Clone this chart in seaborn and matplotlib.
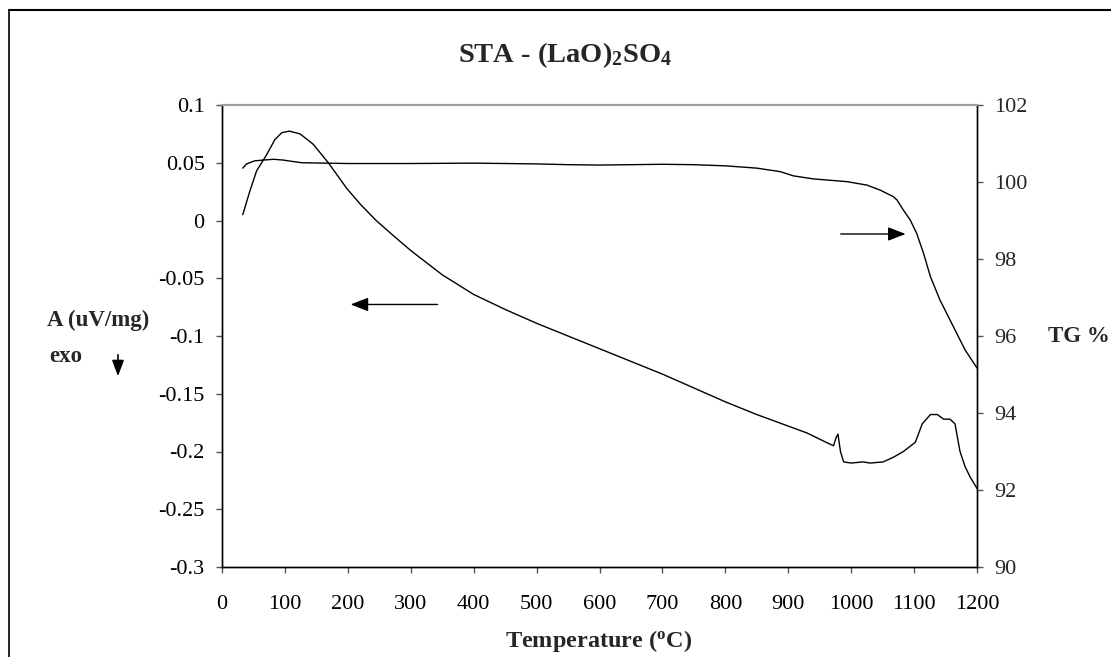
import numpy as np
import pandas as pd
import seaborn as sns
import matplotlib.pyplot as plt
from matplotlib.lines import Line2D

# -------------------------------------------------------------------
# Data read off the STA curves of (LaO)2SO4
# -------------------------------------------------------------------
dta_temp = [33, 44, 55, 71, 84, 95, 107, 124, 145, 169, 198, 220, 245, 270,
            300, 350, 400, 450, 500, 550, 600, 650, 700, 750, 800, 850, 900,
            930, 960, 972, 976, 979, 983, 988, 1000, 1019, 1030, 1051, 1067,
            1083, 1102, 1113, 1126, 1137, 1147, 1157, 1165, 1173, 1181, 1189,
            1200]
dta_vals = [0.005, 0.025, 0.043, 0.057, 0.070, 0.076, 0.0774, 0.075, 0.066,
            0.050, 0.028, 0.014, 0.000, -0.012, -0.026, -0.047, -0.064,
            -0.077, -0.089, -0.100, -0.111, -0.122, -0.133, -0.145, -0.157,
            -0.168, -0.178, -0.184, -0.192, -0.195, -0.188, -0.185, -0.200,
            -0.209, -0.210, -0.209, -0.210, -0.209, -0.205, -0.200, -0.192,
            -0.176, -0.168, -0.168, -0.172, -0.172, -0.176, -0.200, -0.213,
            -0.222, -0.232]

tg_temp = [33, 39, 52, 66, 82, 97, 105, 127, 200, 300, 400, 500, 550, 600,
           650, 700, 750, 800, 850, 887, 908, 940, 993, 1025, 1046, 1067,
           1073, 1083, 1094, 1104, 1115, 1126, 1141, 1165, 1181, 1200]
tg_vals = [100.36, 100.47, 100.55, 100.57, 100.59, 100.57, 100.55, 100.50,
           100.48, 100.48, 100.49, 100.47, 100.45, 100.44, 100.45, 100.46,
           100.45, 100.42, 100.36, 100.27, 100.16, 100.08, 100.01, 99.92,
           99.79, 99.62, 99.53, 99.27, 99.01, 98.67, 98.15, 97.54, 96.94,
           96.16, 95.64, 95.17]

x_ticks = list(range(0, 1201, 100))
left_ticks = [0.1, 0.05, 0, -0.05, -0.1, -0.15, -0.2, -0.25, -0.3]
left_labels = ["0.1", "0.05", "0", "-0.05", "-0.1", "-0.15", "-0.2", "-0.25", "-0.3"]
right_ticks = [90, 92, 94, 96, 98, 100, 102]

dta = pd.DataFrame({"T": dta_temp, "A": dta_vals})
tg = pd.DataFrame({"T": tg_temp, "TG": tg_vals})

# -------------------------------------------------------------------
# Style
# -------------------------------------------------------------------
sns.set_theme(style="white")
plt.rcParams["font.family"] = ["Liberation Serif", "DejaVu Serif"]
plt.rcParams["mathtext.fontset"] = "custom"
plt.rcParams["mathtext.rm"] = "Liberation Serif:bold"
plt.rcParams["mathtext.it"] = "Liberation Serif:bold"
plt.rcParams["mathtext.bf"] = "Liberation Serif:bold"
plt.rcParams["axes.unicode_minus"] = False

fig = plt.figure(figsize=(11.11, 6.57), dpi=100)
ax = fig.add_axes([222 / 1111, 90 / 657, 755 / 1111, 462 / 657])
ax2 = ax.twinx()

sns.lineplot(data=dta, x="T", y="A", ax=ax, color="black", lw=1.0,
             sort=False, estimator=None)
sns.lineplot(data=tg, x="T", y="TG", ax=ax2, color="black", lw=1.0,
             sort=False, estimator=None)

ax.set_xlim(0, 1200)
ax.set_ylim(-0.3, 0.1)
ax2.set_ylim(90, 102)
ax.set_xticks(x_ticks)
ax.set_xticklabels([str(t) for t in x_ticks])
ax.set_yticks(left_ticks)
ax.set_yticklabels(left_labels)
ax2.set_yticks(right_ticks)
ax2.set_yticklabels([str(t) for t in right_ticks])

for a in (ax, ax2):
    a.set_xlabel("")
    a.set_ylabel("")
    for s in a.spines.values():
        s.set_color("black")
        s.set_linewidth(1.0)
    a.spines["top"].set_color("#a0a0a0")
    a.spines["top"].set_linewidth(1.5)
ax.tick_params(axis="both", direction="out", length=4.5, width=1, color="#555555",
               labelsize=16, colors="black")
ax.tick_params(axis="x", pad=16, bottom=True)
ax.tick_params(axis="y", pad=8, left=True)
ax2.tick_params(axis="y", direction="out", length=4.5, width=1, color="#555555",
                labelsize=16, pad=8, right=True)

# arrows pointing to each axis
ax.annotate("", xy=(200, -0.0727), xytext=(347, -0.0727),
            arrowprops=dict(arrowstyle="-|>,head_length=0.9,head_width=0.35",
                            color="black", lw=1.0))
ax2.annotate("", xy=(1091, 98.65), xytext=(979, 98.65),
             arrowprops=dict(arrowstyle="-|>,head_length=0.9,head_width=0.35",
                             color="black", lw=1.0))

# titles and labels
fig.text(565 / 1111, 1 - 55 / 657, r"STA - (LaO)$_2$SO$_4$", ha="center",
         va="center", fontsize=20.5, fontweight="bold")
fig.text(599 / 1111, 1 - 641 / 657, r"Temperature ($^{\mathrm{o}}$C)",
         ha="center", va="center", fontsize=17.5, fontweight="bold")
fig.text(47 / 1111, 1 - 320 / 657, "A (uV/mg)", ha="left", va="center",
         fontsize=16.5, fontweight="bold")
fig.text(66 / 1111, 1 - 357 / 657, "exo", ha="center", va="center",
         fontsize=16.5, fontweight="bold")
fig.text(1048 / 1111, 1 - 337 / 657, "TG %", ha="left", va="center",
         fontsize=16.5, fontweight="bold")
fig.add_artist(plt.Annotation("", xy=(118 / 1111, 1 - 379 / 657),
                              xytext=(118 / 1111, 1 - 352 / 657),
                              xycoords="figure fraction",
                              textcoords="figure fraction",
                              arrowprops=dict(arrowstyle="-|>,head_length=0.8,head_width=0.3",
                                              color="black", lw=1.2)))

# outer chart frame (left and top edges visible)
fig.add_artist(Line2D([9 / 1111, 9 / 1111], [0, 1 - 10 / 657], color="black", lw=1.2))
fig.add_artist(Line2D([9 / 1111, 1], [1 - 10 / 657, 1 - 10 / 657], color="black", lw=1.5))

plt.savefig("out.png", dpi=100)
plt.close()
